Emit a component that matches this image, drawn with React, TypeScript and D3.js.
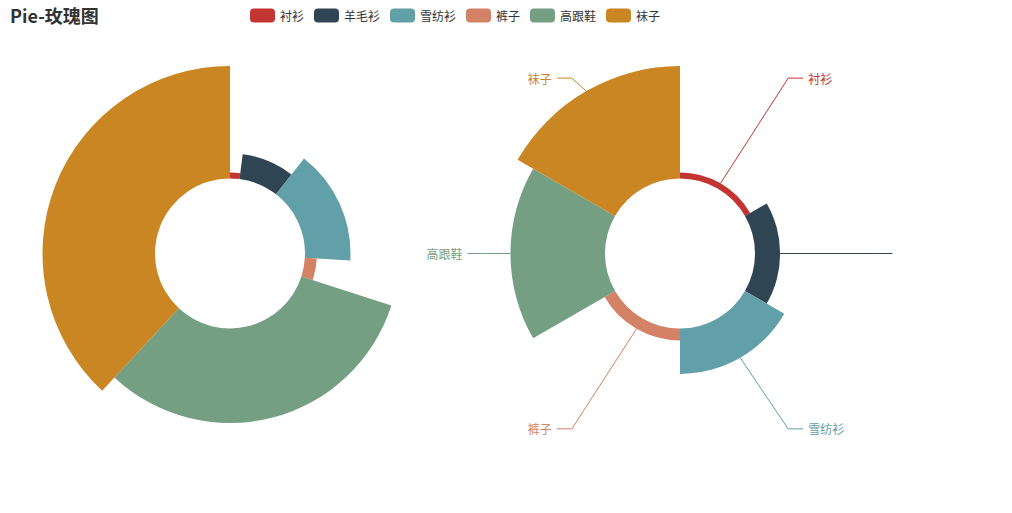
import React from "react";
import * as d3 from "d3";

const categories = ["衬衫", "羊毛衫", "雪纺衫", "裤子", "高跟鞋", "袜子"];
const values = [5, 21, 38, 10, 79, 94];
const colors = ["#c23531", "#2f4554", "#61a0a8", "#d48265", "#749f83", "#ca8622"];
const titleText = "Pie-玫瑰图";
const hiddenLabels = ["羊毛衫"];

const W = 1012;
const H = 513;
const OX = 5;
const OY = 3.5;
const CW = 900;
const CH = 500;
const FONT = "'Noto Sans CJK SC', 'Noto Sans', sans-serif";

export default function App() {
  const r0 = Math.min(CW, CH) / 2 * 0.3;
  const R = Math.min(CW, CH) / 2 * 0.75;
  const maxV = d3.max(values) as number;
  const rScale = d3.scaleLinear().domain([0, maxV]).range([r0, R]);
  const data = categories.map((c, i) => ({ name: c, value: values[i], color: colors[i] }));

  const pieRadius = d3.pie<any>().sort(null).value((d) => d.value).startAngle(0).endAngle(Math.PI * 2);
  const pieArea = d3.pie<any>().sort(null).value(() => 1).startAngle(0).endAngle(Math.PI * 2);
  const arcGen = d3.arc<any>();

  const c1 = { x: CW * 0.25, y: CH * 0.5 };
  const c2 = { x: CW * 0.75, y: CH * 0.5 };

  const leftArcs = pieRadius(data);
  const rightArcs = pieArea(data);

  // legend layout
  const iconW = 25, iconH = 14, gap = 10, textGap = 5;
  const textW = (s: string) => s.length * 12;
  const itemWs = categories.map((c) => iconW + textGap + textW(c));
  const totalW = d3.sum(itemWs) + gap * (categories.length - 1);
  let lx = CW / 2 - totalW / 2;
  const legendItems = categories.map((c, i) => {
    const x = lx;
    lx += itemWs[i] + gap;
    return { name: c, x, color: colors[i] };
  });

  const len1 = 15, len2 = 15;
  const rA = R + len1 - 5;
  const rB = 209.6;

  return (
    <svg width={W} height={H} style={{ position: "absolute", left: 0, top: 0, background: "#fff" }} fontFamily={FONT}>
      <g transform={`translate(${OX},${OY})`}>
        <text x={5} y={19} fontSize={18} fontWeight="bold" fill="#333">{titleText}</text>
        {legendItems.map((it) => (
          <g key={it.name} transform={`translate(${it.x},5)`}>
            <rect width={iconW} height={iconH} rx={4} ry={4} fill={it.color} />
            <text x={iconW + textGap} y={iconH / 2} dominantBaseline="central" fontSize={12} fill="#333">{it.name}</text>
          </g>
        ))}
        <g transform={`translate(${c1.x},${c1.y})`}>
          {leftArcs.map((a) => (
            <path key={a.data.name} d={arcGen({ ...a, innerRadius: r0, outerRadius: rScale(a.data.value) }) as string} fill={a.data.color} />
          ))}
        </g>
        <g transform={`translate(${c2.x},${c2.y})`}>
          {rightArcs.map((a) => (
            <path key={a.data.name} d={arcGen({ ...a, innerRadius: r0, outerRadius: rScale(a.data.value) }) as string} fill={a.data.color} />
          ))}
          {rightArcs.map((a) => {
            const mid = (a.startAngle + a.endAngle) / 2;
            const dx = Math.sin(mid);
            const dy = -Math.cos(mid);
            const rs = rScale(a.data.value);
            const sx = rs * dx, sy = rs * dy;
            const ey = (R + len1) * dy;
            const sign = dx < 0 ? -1 : 1;
            const ex = sign * Math.sqrt(Math.max(0, 1 - (ey * ey) / (rB * rB))) * rA;
            const tx = ex + sign * len2;
            return (
              <g key={a.data.name}>
                <polyline points={`${sx},${sy} ${ex},${ey} ${tx},${ey}`} fill="none" stroke={a.data.color} strokeWidth={1} />
                {hiddenLabels.indexOf(a.data.name) < 0 && (
                  <text x={tx + sign * 5} y={ey} dominantBaseline="central" textAnchor={sign < 0 ? "end" : "start"} fontSize={12} fill={a.data.color}>{a.data.name}</text>
                )}
              </g>
            );
          })}
        </g>
      </g>
    </svg>
  );
}
